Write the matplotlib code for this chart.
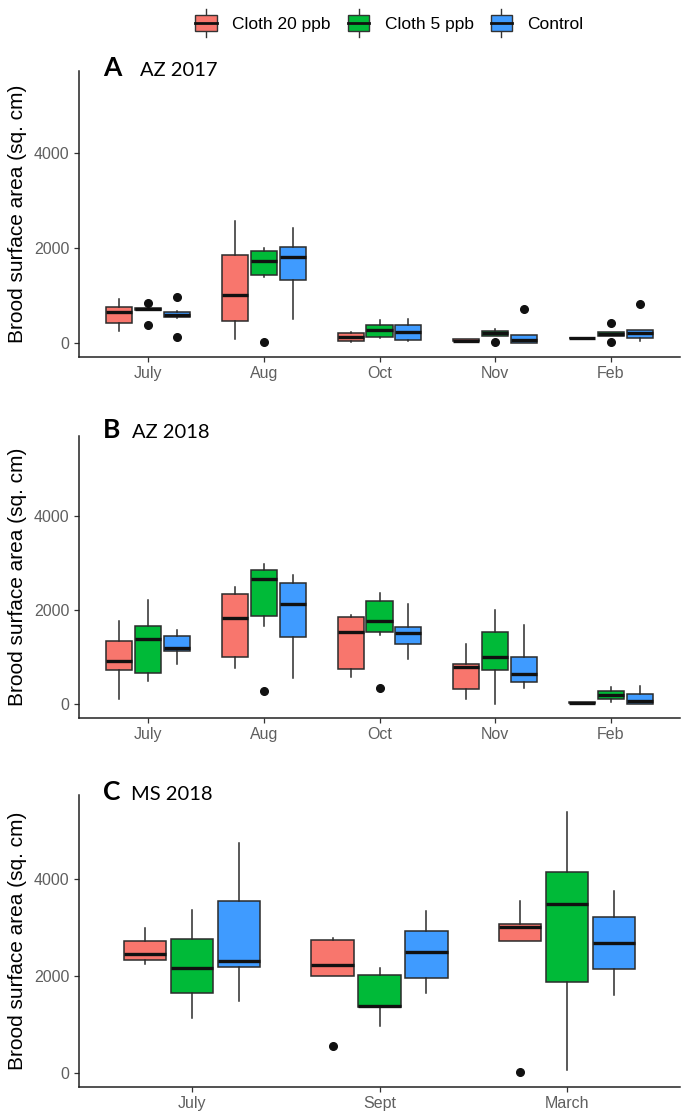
import numpy as np
import matplotlib
matplotlib.use('Agg')
from matplotlib import pyplot as plt
from matplotlib.patches import Rectangle
from matplotlib.lines import Line2D
from matplotlib.legend_handler import HandlerBase

'''three panels of brood surface area boxplots (AZ 2017, AZ 2018, MS 2018)'''

plt.rcParams['font.family'] = ['Liberation Sans', 'DejaVu Sans']

groups = ['Cloth 20 ppb', 'Cloth 5 ppb', 'Control']
colors = ['#F8766D', '#00BA38', '#3F9BFF']

# every stat list is [month][group] in order Cloth 20, Cloth 5, Control
a_months = ['July', 'Aug', 'Oct', 'Nov', 'Feb']
a_lo = [[256, 700, 520], [83, 1389, 500], [28, 118, 35], [30, 153, 10], [95, 153, 48]]
a_q1 = [[431, 700, 540], [465, 1437, 1319], [48, 139, 69], [35, 153, 10], [98, 153, 111]]
a_med = [[652, 722, 590], [1006, 1715, 1806], [130, 277, 236], [55, 208, 60], [104, 194, 208]]
a_q3 = [[756, 735, 650], [1848, 1944, 2021], [208, 381, 381], [80, 257, 165], [110, 236, 277]]
a_hi = [[931, 745, 665], [2563, 1993, 2423], [236, 486, 514], [90, 306, 165], [115, 236, 277]]
a_out = [[[], [833, 381], [958, 125]], [[], [14], []], [[], [], []],
         [[], [14], [708]], [[], [431, 14], [812]]]

b_months = ['July', 'Aug', 'Oct', 'Nov', 'Feb']
b_lo = [[118, 488, 864], [780, 1666, 550], [585, 1477, 969], [105, 0, 348], [20, 49, 0]]
b_q1 = [[725, 676, 1129], [1003, 1875, 1436], [746, 1547, 1282], [328, 739, 467], [20, 118, 0]]
b_med = [[920, 1394, 1199], [1847, 2676, 2146], [1533, 1777, 1512], [801, 1003, 641], [35, 209, 70]]
b_q3 = [[1338, 1672, 1463], [2355, 2857, 2585], [1861, 2209, 1645], [864, 1533, 1003], [50, 293, 223]]
b_hi = [[1770, 2230, 1582], [2488, 2990, 2760], [1902, 2362, 2132], [1282, 2000, 1686], [50, 362, 397]]
b_out = [[[], [], []], [[], [279], []], [[], [348], []], [[], [], []], [[], [], []]]

c_months = ['July', 'Sept', 'March']
c_lo = [[2242, 1121, 1481], [1993, 969, 1647], [2713, 55, 1606]]
c_q1 = [[2332, 1640, 2180], [1993, 1349, 1958], [2713, 1869, 2131]]
c_med = [[2443, 2159, 2304], [2215, 1370, 2478], [2997, 3474, 2664]]
c_q3 = [[2713, 2747, 3529], [2734, 2021, 2920], [3066, 4131, 3204]]
c_hi = [[2990, 3356, 4740], [2782, 2159, 3322], [3529, 5363, 3751]]
c_out = [[[], [], []], [[554], [], []], [[14], [], []]]

panels = [
    ('A', 'AZ 2017', a_months, a_lo, a_q1, a_med, a_q3, a_hi, a_out),
    ('B', 'AZ 2018', b_months, b_lo, b_q1, b_med, b_q3, b_hi, b_out),
    ('C', 'MS 2018', c_months, c_lo, c_q1, c_med, c_q3, c_hi, c_out),
]

W, H = 685, 1119
fig = plt.figure(figsize=(W/100, H/100), dpi=100)

# axes boxes in pixels: top, bottom of each panel
ax_px = [(70.7, 356.7), (435.7, 717.7), (795.0, 1086.7)]
title_px = [(103, 140, 76), (103, 132, 438), (103, 131, 800)]
left, right = 79, 680

for i, (letter, sub, months, lo, q1, med, q3, hi, out) in enumerate(panels):
    top, bot = ax_px[i]
    ax = fig.add_axes([left/W, 1 - bot/H, (right-left)/W, (bot-top)/H])
    n = len(months)
    for g in range(3):
        stats = []
        for m in range(n):
            stats.append(dict(whislo=lo[m][g], q1=q1[m][g], med=med[m][g],
                              q3=q3[m][g], whishi=hi[m][g], fliers=out[m][g]))
        pos = np.arange(1, n+1) + (g-1)*0.25
        ax.bxp(stats, positions=pos, widths=0.225, patch_artist=True,
               showcaps=False, manage_ticks=False,
               boxprops=dict(facecolor=colors[g], edgecolor='#2b2b2b', lw=1.1),
               medianprops=dict(color='#111111', lw=2.4, solid_capstyle='butt'),
               whiskerprops=dict(color='#2b2b2b', lw=1.1),
               flierprops=dict(marker='o', markerfacecolor='#111111',
                               markeredgecolor='#111111', markersize=5.5))
    ax.set_xlim(0.4, n + 0.6)
    ax.set_ylim(-285, 5720)
    ax.set_xticks(np.arange(1, n+1))
    ax.set_xticklabels(months)
    ax.set_yticks([0, 2000, 4000])
    for s in ['top', 'right']:
        ax.spines[s].set_visible(False)
    for s in ['left', 'bottom']:
        ax.spines[s].set_linewidth(1.1)
        ax.spines[s].set_color('#222222')
    ax.tick_params(length=3.5, width=0.9, color='#333333', labelcolor='#5f5f5f',
                   labelsize=11.5, pad=3.5)

    lx, sx, base = title_px[i]
    fig.text(lx/W, 1 - base/H, letter, fontsize=19, fontweight='bold',
             family=['Lato', 'DejaVu Sans'], va='baseline', ha='left')
    fig.text(sx/W, 1 - base/H, sub, fontsize=14.5,
             family=['Lato', 'DejaVu Sans'], va='baseline', ha='left')
    fig.text(18/W, 1 - (top+bot)/2/H, 'Brood surface area (sq. cm)', rotation=90,
             fontsize=15, va='center', ha='center')


class BoxKey(HandlerBase):
    def create_artists(self, legend, orig_handle, xdescent, ydescent,
                       width, height, fontsize, trans):
        fc = orig_handle.get_facecolor()
        cx = width/2 - xdescent
        cy = height/2 - ydescent
        bw, bh = width*0.78, height*0.62
        whisker = Line2D([cx, cx], [cy - height*0.55, cy + height*0.55],
                         color='#333333', lw=1.0, transform=trans)
        box = Rectangle((cx - bw/2, cy - bh/2), bw, bh, facecolor=fc,
                        edgecolor='#333333', lw=1.0, transform=trans)
        mid = Line2D([cx - bw/2, cx + bw/2], [cy, cy], color='#111111',
                     lw=2.0, transform=trans)
        return [whisker, box, mid]


handles = [Rectangle((0, 0), 1, 1, facecolor=c) for c in colors]
fig.legend(handles, groups, loc='center', bbox_to_anchor=(388/W, 1 - 23/H),
           ncol=3, frameon=False, fontsize=12.5, handlelength=1.6, handleheight=1.8,
           handletextpad=0.7, columnspacing=0.8,
           handler_map={Rectangle: BoxKey()})

fig.savefig('out.png', dpi=100)
